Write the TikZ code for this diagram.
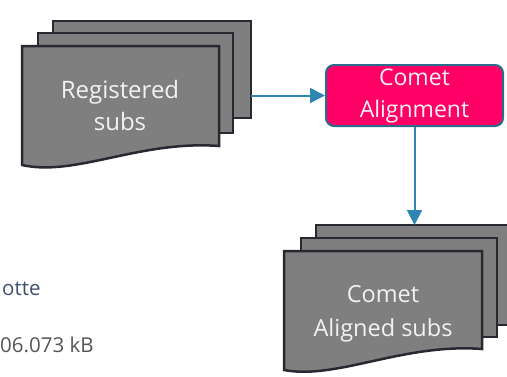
\documentclass[tikz,border=0pt]{standalone}
\usepackage{fontspec}
\setmainfont{Open Sans}
\usetikzlibrary{arrows.meta}
\definecolor{pagefill}{HTML}{7F7F7F}
\definecolor{pageline}{HTML}{262A30}
\definecolor{cometpink}{HTML}{FF0066}
\definecolor{boxline}{HTML}{2B6C8C}
\definecolor{arrowblue}{HTML}{2E87B3}
\definecolor{labelblue}{HTML}{3D4F6E}
\definecolor{labelgray}{HTML}{555555}
\definecolor{pagetextcol}{HTML}{F2F2F2}
\begin{document}
\begin{tikzpicture}[x=1pt,y=-1pt,
  page/.style={draw=pageline, fill=pagefill, line width=2.5pt, line join=miter},
  backpage/.style={page, rectangle, inner sep=0pt, outer sep=0pt},
  pagetext/.style={text=pagetextcol, align=center, inner sep=0pt},
  flow/.style={draw=arrowblue, line width=2pt, -{Triangle[length=15pt,width=15pt]}},
  process/.style={rectangle, rounded corners=8pt, draw=boxline, fill=cometpink, line width=2pt,
    text=pagetextcol, align=center, inner sep=0pt, font=\fontsize{23}{32}\selectfont},
  sidelabel/.style={anchor=base west, inner sep=0pt, font=\fontsize{20.5}{24}\selectfont}]
\useasboundingbox (0,0) rectangle (507,376);
\clip (0,0) rectangle (507,376);

% Registered subs stack
\node[backpage, minimum width=198pt, minimum height=97pt] (reg3) at (152,69.5) {};
\node[backpage, minimum width=195pt, minimum height=100pt] (reg2) at (135.5,83) {};
\path[page] (22,46) -- (219,46) -- (219,146) .. controls (140,140) and (75,177) .. (22,165) -- cycle;
\node[pagetext, font=\fontsize{24}{32}\selectfont] (reg) at (120,105) {Registered\\subs};

% Comet Alignment
\node[process, minimum width=177pt, minimum height=61pt] (align) at (414.5,95.5) {Comet\\Alignment};

% Comet Aligned subs stack
\node[backpage, minimum width=197pt, minimum height=100pt] (al3) at (414.5,275) {};
\node[backpage, minimum width=196pt, minimum height=99pt] (al2) at (399,287.5) {};
\path[page] (284,251) -- (482,251) -- (482,349) .. controls (403,343) and (337,380) .. (284,370) -- cycle;
\node[pagetext, font=\fontsize{23.5}{34}\selectfont] (aligned) at (383,313.5) {Comet\\Aligned subs};

% connectors
\draw[flow] (reg3.east |- align.west) -- (align.west);
\draw[flow] (align.south) -- (al3.north);

% side labels
\node[sidelabel, text=labelblue] (lab1) at (2,295) {otte};
\node[sidelabel, text=labelgray] (lab2) at (0,352) {06.073 kB};
\end{tikzpicture}
\end{document}
